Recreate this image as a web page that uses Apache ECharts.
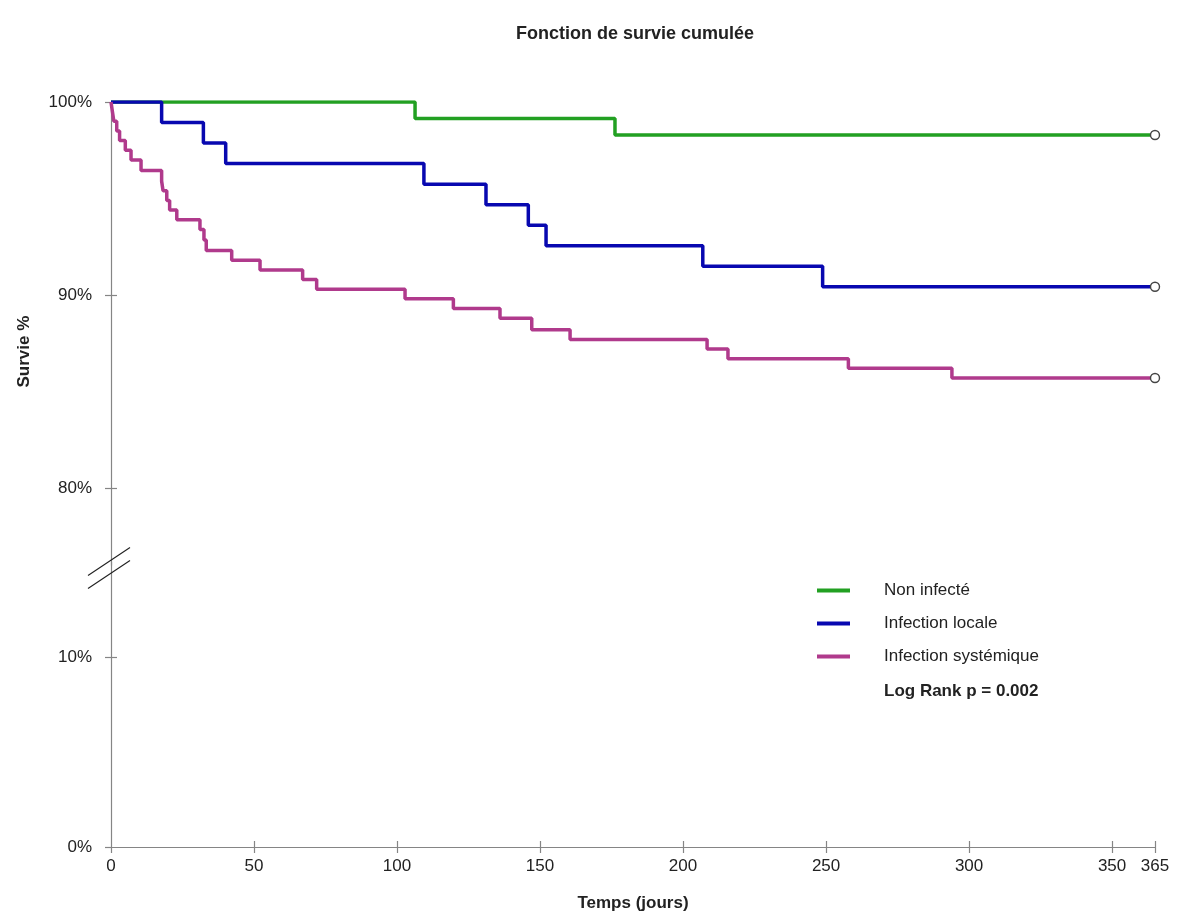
<!DOCTYPE html>
<html>
<head>
<meta charset="utf-8">
<script src="https://cdn.jsdelivr.net/npm/echarts@6/dist/echarts.min.js"></script>
<style>
html,body{margin:0;padding:0;background:#fff;}
#chart{width:1186px;height:917px;}
</style>
</head>
<body>
<div id="chart"></div>
<script>
// ---- Data ----
const seriesNames = ['Non infecté', 'Infection locale', 'Infection systémique'];
const xTickValues = [0, 50, 100, 150, 200, 250, 300, 350, 365];
const yUpperTicks = [80, 90, 100];
const yLowerTicks = [0, 10];

const greenTimes = [0, 106.3, 176.2, 365];
const greenSurv  = [100, 99.15, 98.29, 98.29];

const blueTimes = [0, 17.7, 32.3, 40.1, 109.4, 131.1, 145.9, 152.1, 206.9, 248.8, 365];
const blueSurv  = [100, 98.94, 97.87, 96.81, 95.74, 94.68, 93.62, 92.55, 91.49, 90.43, 90.43];

const magTimes = [0, 0.5, 1, 2, 3, 5, 7, 10.5, 17.7, 18.2, 19.5, 20.5, 23, 31.1, 32.5, 33.3, 42.2, 52.1, 67, 71.9, 102.8, 119.7, 136, 147.1, 160.5, 208.4, 215.7, 257.8, 294, 365];
const magSurv  = [100, 99.5, 99.0, 98.5, 98.0, 97.5, 97.0, 96.45, 95.9, 95.4, 94.9, 94.4, 93.9, 93.4, 92.85, 92.3, 91.8, 91.3, 90.8, 90.3, 89.8, 89.3, 88.8, 88.2, 87.7, 87.2, 86.7, 86.2, 85.7, 85.7];

const colors = ['#22a022', '#0808b0', '#b03a8c'];
const logRankText = 'Log Rank p = 0.002';

// ---- Build ----
function buildData(times, surv) {
  return times.map((t, i) => {
    if (i === times.length - 1) {
      return {
        value: [t, surv[i]],
        symbol: 'circle',
        symbolSize: 9,
        itemStyle: { color: '#ffffff', borderColor: '#444', borderWidth: 1.4 }
      };
    }
    return [t, surv[i]];
  });
}

const FONT = 'Liberation Sans, Arial, sans-serif';
const AXIS_COLOR = '#858585';
const TEXT_COLOR = '#222';

const chart = echarts.init(document.getElementById('chart'), null, { renderer: 'canvas' });

const lineSeries = (name, times, surv, color) => ({
  name: name,
  type: 'line',
  xAxisIndex: 0,
  yAxisIndex: 0,
  step: 'end',
  symbol: 'none',
  showSymbol: true,
  lineStyle: { color: color, width: 3.5 },
  itemStyle: { color: color },
  emphasis: { disabled: true },
  data: buildData(times, surv),
  z: 3
});

const option = {
  animation: false,
  backgroundColor: '#ffffff',
  title: [
    {
      text: 'Fonction de survie cumulée',
      left: 630,
      textAlign: 'center',
      top: 20,
      textStyle: { fontFamily: FONT, fontSize: 18, fontWeight: 'bold', color: TEXT_COLOR }
    },
    {
      text: logRankText,
      left: 879,
      top: 678,
      textStyle: { fontFamily: FONT, fontSize: 17, fontWeight: 'bold', color: TEXT_COLOR }
    }
  ],
  legend: {
    orient: 'vertical',
    left: 812,
    top: 577,
    itemWidth: 33,
    itemHeight: 4,
    itemGap: 16,
    icon: 'rect',
    data: seriesNames,
    textStyle: { fontFamily: FONT, fontSize: 17, color: TEXT_COLOR, lineHeight: 17, padding: [0, 0, 0, 29] }
  },
  grid: [
    { left: 111, right: 31, top: 102, bottom: 351.8 },
    { left: 111, right: 31, top: 562, bottom: 70 }
  ],
  xAxis: [
    { type: 'value', gridIndex: 0, min: 0, max: 365, show: false },
    {
      type: 'value', gridIndex: 1, min: 0, max: 365,
      name: 'Temps (jours)', nameLocation: 'middle', nameGap: 48,
      nameTextStyle: { fontFamily: FONT, fontSize: 17, fontWeight: 'bold', color: TEXT_COLOR },
      axisLine: { show: true, lineStyle: { color: AXIS_COLOR, width: 1.2 } },
      axisTick: { show: true, length: 6, customValues: xTickValues, lineStyle: { color: AXIS_COLOR, width: 1.2 } },
      axisLabel: { show: true, customValues: xTickValues, margin: 11, fontFamily: FONT, fontSize: 17, color: TEXT_COLOR, hideOverlap: false },
      splitLine: { show: false }
    },
    {
      type: 'value', gridIndex: 1, min: 0, max: 365, position: 'bottom',
      axisLine: { show: false },
      axisTick: { show: true, inside: true, length: 6, customValues: xTickValues.filter(v => v > 0), lineStyle: { color: AXIS_COLOR, width: 1.2 } },
      axisLabel: { show: false },
      splitLine: { show: false }
    }
  ],
  yAxis: [
    {
      type: 'value', gridIndex: 0, min: 76, max: 100, position: 'left',
      name: 'Survie %', nameLocation: 'middle', nameGap: 78, nameRotate: 90,
      nameTextStyle: { fontFamily: FONT, fontSize: 17, fontWeight: 'bold', color: TEXT_COLOR, padding: [0, 36, 0, 0] },
      axisLine: { show: true, lineStyle: { color: AXIS_COLOR, width: 1.2 } },
      axisTick: { show: true, length: 6, customValues: yUpperTicks, lineStyle: { color: AXIS_COLOR, width: 1.2 } },
      axisLabel: { show: true, customValues: yUpperTicks, margin: 19, fontFamily: FONT, fontSize: 17, color: TEXT_COLOR, formatter: v => v + '%' },
      splitLine: { show: false }
    },
    {
      type: 'value', gridIndex: 1, min: 0, max: 15, position: 'left',
      axisLine: { show: true, lineStyle: { color: AXIS_COLOR, width: 1.2 } },
      axisTick: { show: true, length: 6, customValues: yLowerTicks, lineStyle: { color: AXIS_COLOR, width: 1.2 } },
      axisLabel: { show: true, customValues: yLowerTicks, margin: 19, fontFamily: FONT, fontSize: 17, color: TEXT_COLOR, formatter: v => v + '%' },
      splitLine: { show: false }
    },
    {
      type: 'value', gridIndex: 0, min: 76, max: 100, position: 'left',
      axisLine: { show: false },
      axisTick: { show: true, inside: true, length: 6, customValues: yUpperTicks, lineStyle: { color: AXIS_COLOR, width: 1.2 } },
      axisLabel: { show: false },
      splitLine: { show: false }
    },
    {
      type: 'value', gridIndex: 1, min: 0, max: 15, position: 'left',
      axisLine: { show: false },
      axisTick: { show: true, inside: true, length: 6, customValues: yLowerTicks.filter(v => v > 0), lineStyle: { color: AXIS_COLOR, width: 1.2 } },
      axisLabel: { show: false },
      splitLine: { show: false }
    }
  ],
  series: [
    lineSeries(seriesNames[0], greenTimes, greenSurv, colors[0]),
    lineSeries(seriesNames[1], blueTimes, blueSurv, colors[1]),
    lineSeries(seriesNames[2], magTimes, magSurv, colors[2])
  ]
};

chart.setOption(option);

// Axis-break marks ("//") placed at the junction of the two y-axis segments
const axisX = chart.convertToPixel({ xAxisIndex: 1 }, 0);
const joinY = chart.convertToPixel({ yAxisIndex: 1 }, 15) + 5;
const slash = (cy) => ({
  type: 'line',
  shape: { x1: axisX - 23, y1: cy + 15, x2: axisX + 19, y2: cy - 13 },
  style: { stroke: '#222', lineWidth: 1.1 },
  z: 10
});
chart.setOption({
  graphic: [slash(joinY - 6.5), slash(joinY + 6.5)]
});
</script>
</body>
</html>
